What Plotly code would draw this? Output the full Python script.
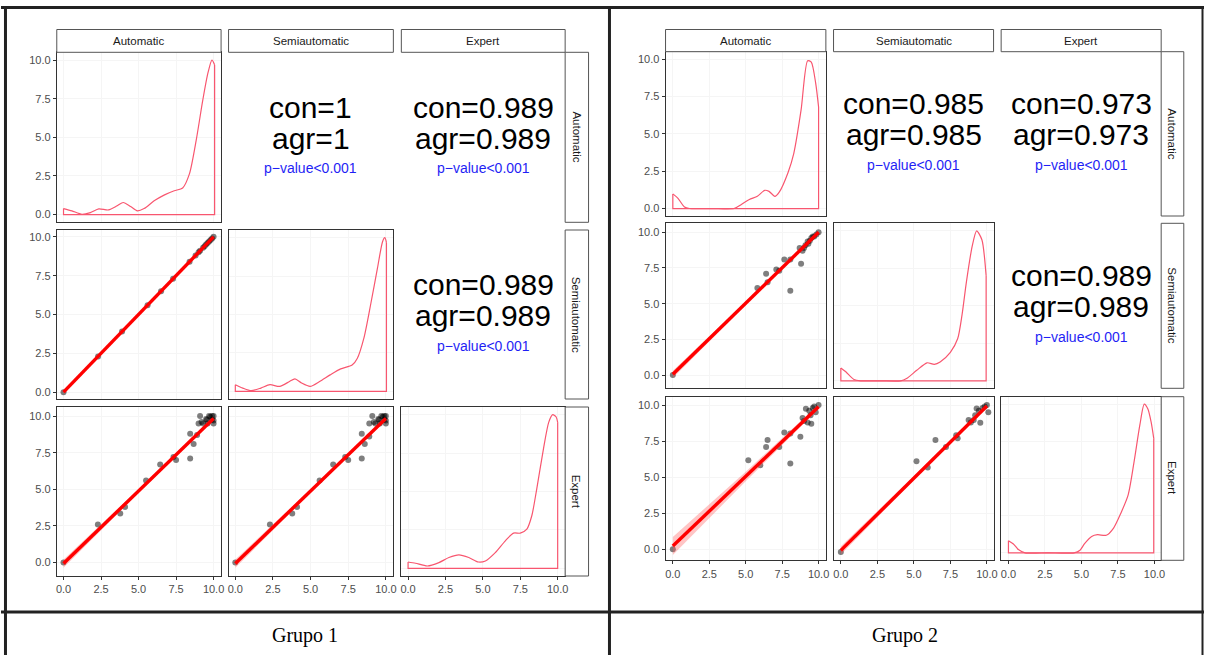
import plotly.graph_objects as go

# ---------------- data ----------------
variables = ["Automatic", "Semiautomatic", "Expert"]
group_names = ["Grupo 1", "Grupo 2"]
tick_vals = [0, 2.5, 5, 7.5, 10]
tick_text = ["0.0", "2.5", "5.0", "7.5", "10.0"]

# upper-panel statistics, order: (Auto,Semi), (Auto,Expert), (Semi,Expert)
g1_con = [1, 0.989, 0.989]
g1_agr = [1, 0.989, 0.989]
g2_con = [0.985, 0.973, 0.989]
g2_agr = [0.985, 0.973, 0.989]
p_label = "p\u2212value<0.001"

# diagonal density curves (scaled to 0-10)
g1_auto_dx = [0.0, 0.56, 1.23, 1.79, 2.35, 3.0, 3.58, 3.98, 4.47, 4.92, 5.37, 6.04, 6.7, 7.38, 7.94, 8.39, 8.84, 9.28, 9.62, 9.89, 10.07]
g1_auto_dy = [0.39, 0.24, 0.02, 0.13, 0.37, 0.3, 0.57, 0.78, 0.52, 0.24, 0.39, 0.89, 1.26, 1.54, 1.72, 2.63, 4.8, 7.4, 9.15, 10.0, 9.7]
g1_semi_dx = [0.0, 0.5, 1.05, 1.7, 2.3, 2.95, 3.6, 3.96, 4.4, 4.97, 5.6, 6.3, 7.0, 7.76, 8.1, 8.55, 9.0, 9.44, 9.78, 9.93, 10.04]
g1_semi_dy = [0.43, 0.21, 0.04, 0.21, 0.43, 0.32, 0.64, 0.81, 0.54, 0.32, 0.64, 1.07, 1.46, 1.71, 2.14, 3.5, 5.7, 8.0, 9.74, 10.0, 9.7]
g1_exp_dx = [0.0, 0.5, 1.29, 2.06, 2.73, 3.4, 4.06, 4.7, 5.17, 5.83, 6.5, 7.05, 7.5, 7.94, 8.27, 8.6, 9.05, 9.4, 9.67, 9.9, 10.0]
g1_exp_dy = [0.41, 0.33, 0.15, 0.37, 0.7, 0.87, 0.7, 0.41, 0.48, 1.02, 1.79, 2.29, 2.29, 2.55, 3.42, 5.16, 7.78, 9.5, 10.0, 9.85, 9.5]

g2_auto_dx = [0.0, 0.34, 0.8, 1.14, 2.7, 4.2, 4.7, 5.25, 5.8, 6.3, 6.6, 7.0, 7.3, 7.9, 8.3, 8.8, 9.25, 9.5, 9.8, 10.0]
g2_auto_dy = [0.98, 0.7, 0.1, 0.0, 0.0, 0.0, 0.27, 0.6, 0.82, 1.22, 1.15, 0.82, 1.1, 2.4, 3.7, 6.6, 9.9, 9.8, 8.4, 6.8]
g2_semi_dx = [0.0, 0.34, 0.9, 1.36, 2.7, 4.1, 4.5, 5.2, 5.9, 6.4, 6.8, 7.5, 8.0, 8.3, 8.6, 9.0, 9.3, 9.66, 9.95]
g2_semi_dy = [0.86, 0.6, 0.09, 0.0, 0.0, 0.0, 0.15, 0.7, 1.2, 1.1, 1.26, 1.9, 2.8, 4.4, 6.6, 9.0, 10.0, 9.4, 7.0]
g2_exp_dx = [0.0, 0.34, 0.68, 1.14, 2.7, 4.5, 4.9, 5.2, 5.7, 6.1, 6.7, 7.2, 7.7, 8.2, 8.6, 9.0, 9.3, 9.55, 9.77, 9.95]
g2_exp_dy = [0.82, 0.6, 0.22, 0.0, 0.0, 0.0, 0.18, 0.6, 1.1, 1.22, 1.18, 1.67, 2.67, 3.9, 6.1, 8.6, 10.0, 9.67, 8.8, 7.7]

# scatter points (x = column rater, y = row rater)
g1_auto_semi_x = [0.0, 2.3, 3.9, 5.6, 6.5, 7.3, 8.4, 8.8, 9.0, 9.1, 9.3, 9.4, 9.5, 9.6, 9.7, 9.8, 9.9, 10.0]
g1_auto_semi_y = [0.0, 2.3, 3.9, 5.6, 6.5, 7.3, 8.4, 8.8, 9.0, 9.1, 9.3, 9.4, 9.5, 9.6, 9.7, 9.8, 9.9, 10.0]
g1_auto_exp_x = [0.0, 2.29, 3.78, 4.1, 5.5, 6.44, 7.33, 7.5, 8.44, 8.44, 8.67, 8.9, 9.1, 9.0, 9.3, 9.56, 9.78, 10.0, 10.0, 9.9, 9.2, 9.5, 9.7, 10.0, 9.9, 9.6]
g1_auto_exp_y = [0.0, 2.6, 3.35, 3.8, 5.6, 6.7, 7.2, 7.0, 7.1, 8.8, 8.1, 8.7, 10.0, 9.5, 9.5, 9.75, 9.95, 10.0, 9.5, 9.75, 9.6, 9.8, 10.0, 9.7, 10.0, 9.5]
g1_semi_exp_x = [0.0, 2.3, 3.78, 4.1, 5.6, 6.5, 7.3, 7.5, 8.4, 8.4, 8.6, 8.9, 9.1, 8.9, 9.3, 9.55, 9.8, 10.0, 10.0, 9.9, 9.2, 9.5, 9.7, 10.0, 9.9, 9.6]
g1_semi_exp_y = [0.0, 2.6, 3.35, 3.8, 5.6, 6.7, 7.2, 7.0, 7.1, 8.8, 8.1, 8.6, 10.0, 9.5, 9.5, 9.75, 9.95, 10.0, 9.5, 9.75, 9.6, 9.8, 10.0, 9.7, 10.0, 9.5]

g2_auto_semi_x = [0.0, 5.8, 6.4, 6.5, 7.1, 7.3, 7.65, 8.06, 8.06, 8.8, 8.7, 9.0, 9.1, 9.25, 9.4, 9.6, 9.7, 9.85, 10.0, 8.9, 9.3, 9.5]
g2_auto_semi_y = [0.0, 6.1, 7.1, 6.5, 7.4, 7.3, 8.1, 8.1, 5.9, 7.8, 8.9, 8.9, 9.1, 9.35, 9.4, 9.7, 9.7, 9.85, 10.0, 8.7, 9.2, 9.6]
g2_auto_exp_x = [0.0, 5.18, 6.0, 6.4, 6.5, 7.3, 7.65, 8.06, 8.06, 8.75, 9.0, 9.25, 9.5, 9.13, 9.36, 9.8, 10.0, 9.6, 8.9, 9.45, 9.7]
g2_auto_exp_y = [0.0, 6.18, 5.83, 7.1, 7.57, 7.1, 8.1, 8.03, 5.95, 7.8, 8.9, 8.8, 8.7, 9.75, 9.6, 9.5, 10.0, 9.8, 9.1, 9.3, 9.9]
g2_semi_exp_x = [0.0, 5.18, 5.95, 6.48, 7.2, 7.9, 8.0, 8.75, 9.3, 9.1, 9.55, 10.0, 10.1, 8.9, 9.2, 9.45, 9.7, 9.85]
g2_semi_exp_y = [-0.19, 6.1, 5.67, 7.57, 7.1, 7.9, 7.7, 8.96, 9.77, 8.96, 8.77, 10.0, 9.5, 8.8, 9.3, 9.6, 9.8, 9.9]

# linear fits with confidence band, evaluated at fit_x
fit_x = [0.0, 5.0, 10.0]
g1_auto_semi_fit = [0.0, 5.0, 10.0]
g1_auto_semi_lo = [-0.12, 4.94, 9.92]
g1_auto_semi_hi = [0.12, 5.06, 10.08]
g1_auto_exp_fit = [-0.07, 4.88, 9.84]
g1_auto_exp_lo = [-0.35, 4.75, 9.74]
g1_auto_exp_hi = [0.21, 5.01, 9.94]
g1_semi_exp_fit = [-0.07, 4.88, 9.84]
g1_semi_exp_lo = [-0.35, 4.75, 9.74]
g1_semi_exp_hi = [0.21, 5.01, 9.94]
g2_auto_semi_fit = [0.05, 5.02, 10.0]
g2_auto_semi_lo = [-0.2, 4.9, 9.9]
g2_auto_semi_hi = [0.3, 5.14, 10.1]
g2_auto_exp_fit = [0.23, 5.05, 9.88]
g2_auto_exp_lo = [-0.4, 4.72, 9.72]
g2_auto_exp_hi = [0.86, 5.38, 10.04]
g2_semi_exp_fit = [-0.07, 4.93, 9.93]
g2_semi_exp_lo = [-0.35, 4.78, 9.83]
g2_semi_exp_hi = [0.21, 5.08, 10.03]

# ---------------- layout geometry (pixels) ----------------
W, H = 1208, 655
def fx(p):
    return p / W
def fy(p):
    return 1 - p / H

groups = [
    dict(cols=[(56, 221), (228.5, 394), (402, 566.5)],
         rows=[(52.3, 222.3), (230, 399), (407, 576)],
         strip_top=29.5, strip_right=590,
         xr=[[-0.45, 10.5], [-0.45, 10.5], [-0.45, 10.5]],
         yr=[[-0.5, 10.5], [-0.44, 10.44], [-0.92, 10.62]],
         con=g1_con, agr=g1_agr,
         dens=[(g1_auto_dx, g1_auto_dy), (g1_semi_dx, g1_semi_dy), (g1_exp_dx, g1_exp_dy)],
         scat={(1, 0): (g1_auto_semi_x, g1_auto_semi_y, g1_auto_semi_fit, g1_auto_semi_lo, g1_auto_semi_hi),
               (2, 0): (g1_auto_exp_x, g1_auto_exp_y, g1_auto_exp_fit, g1_auto_exp_lo, g1_auto_exp_hi),
               (2, 1): (g1_semi_exp_x, g1_semi_exp_y, g1_semi_exp_fit, g1_semi_exp_lo, g1_semi_exp_hi)}),
    dict(cols=[(667.3, 828.3), (836, 996.7), (1004.3, 1165)],
         rows=[(51.7, 216), (223.3, 388.3), (396.7, 560.3)],
         strip_top=29.5, strip_right=1187.7,
         xr=[[-0.5, 10.5], [-0.5, 10.46], [-0.5, 10.46]],
         yr=[[-0.5, 10.5], [-0.93, 10.63], [-0.76, 10.58]],
         con=g2_con, agr=g2_agr,
         dens=[(g2_auto_dx, g2_auto_dy), (g2_semi_dx, g2_semi_dy), (g2_exp_dx, g2_exp_dy)],
         scat={(1, 0): (g2_auto_semi_x, g2_auto_semi_y, g2_auto_semi_fit, g2_auto_semi_lo, g2_auto_semi_hi),
               (2, 0): (g2_auto_exp_x, g2_auto_exp_y, g2_auto_exp_fit, g2_auto_exp_lo, g2_auto_exp_hi),
               (2, 1): (g2_semi_exp_x, g2_semi_exp_y, g2_semi_exp_fit, g2_semi_exp_lo, g2_semi_exp_hi)}),
]

SANS = "Liberation Sans, Arial, Helvetica, sans-serif"
DENS_COL = "#F8566F"
fig = go.Figure()
layout = dict(width=W, height=H, margin=dict(l=0, r=0, t=0, b=0),
              paper_bgcolor="white", plot_bgcolor="white", showlegend=False)
shapes = []
annotations = []

k = 0
for g in groups:
    # panels
    for r in range(3):
        for c in range(3):
            if c > r:
                continue
            k += 1
            xa = "xaxis" if k == 1 else "xaxis%d" % k
            ya = "yaxis" if k == 1 else "yaxis%d" % k
            xref = "x" if k == 1 else "x%d" % k
            yref = "y" if k == 1 else "y%d" % k
            x0, x1 = g["cols"][c]
            y0, y1 = g["rows"][r]
            yrange = g["yr"][r] if r != c else [-0.5, 10.5]
            common = dict(tickvals=tick_vals, ticktext=tick_text, showline=True,
                          linecolor="#333333", linewidth=1, mirror=True,
                          showgrid=True, gridcolor="#F5F5F5", gridwidth=1,
                          zeroline=False, ticklen=3, tickcolor="#333333",
                          tickfont=dict(family=SANS, size=11, color="#4D4D4D"),
                          fixedrange=True)
            layout[xa] = dict(common, domain=[fx(x0), fx(x1)], range=g["xr"][c],
                              anchor=yref, showticklabels=(r == 2),
                              ticks="outside" if r == 2 else "")
            layout[ya] = dict(common, domain=[fy(y1), fy(y0)], range=yrange,
                              anchor=xref, showticklabels=(c == 0),
                              ticks="outside" if c == 0 else "")
            if r == c:
                dx, dy = g["dens"][r]
                fig.add_trace(go.Scatter(x=dx, y=dy, mode="lines", xaxis=xref, yaxis=yref,
                                         line=dict(color=DENS_COL, width=1.2, shape="spline", smoothing=0.7),
                                         hoverinfo="skip"))
                fig.add_trace(go.Scatter(x=[dx[-1], dx[-1], dx[0], dx[0]], y=[dy[-1], 0, 0, dy[0]],
                                         mode="lines", xaxis=xref, yaxis=yref,
                                         line=dict(color=DENS_COL, width=1.2), hoverinfo="skip"))
            else:
                sx, sy, fit, lo, hi = g["scat"][(r, c)]
                fig.add_trace(go.Scatter(x=sx, y=sy, mode="markers", xaxis=xref, yaxis=yref,
                                         marker=dict(size=6, color="rgba(0,0,0,0.5)"),
                                         hoverinfo="skip"))
                fig.add_trace(go.Scatter(x=fit_x + fit_x[::-1], y=hi + lo[::-1], mode="lines",
                                         fill="toself", fillcolor="rgba(255,90,90,0.35)",
                                         line=dict(width=0), xaxis=xref, yaxis=yref, hoverinfo="skip"))
                fig.add_trace(go.Scatter(x=fit_x, y=fit, mode="lines", xaxis=xref, yaxis=yref,
                                         line=dict(color="#FF0000", width=3.4), hoverinfo="skip"))
    # column strips
    for c in range(3):
        x0, x1 = g["cols"][c]
        shapes.append(dict(type="rect", xref="paper", yref="paper", x0=fx(x0), x1=fx(x1),
                           y0=fy(g["rows"][0][0]), y1=fy(g["strip_top"]),
                           line=dict(color="#555555", width=1), fillcolor="white"))
        annotations.append(dict(xref="paper", yref="paper", x=fx((x0 + x1) / 2),
                                y=fy((g["rows"][0][0] + g["strip_top"]) / 2),
                                text=variables[c], showarrow=False, xanchor="center", yanchor="middle",
                                font=dict(family=SANS, size=11.5, color="#1A1A1A")))
    # row strips
    for r in range(3):
        y0, y1 = g["rows"][r]
        xs0 = g["cols"][2][1]
        shapes.append(dict(type="rect", xref="paper", yref="paper", x0=fx(xs0), x1=fx(g["strip_right"]),
                           y0=fy(y1), y1=fy(y0), line=dict(color="#555555", width=1), fillcolor="white"))
        annotations.append(dict(xref="paper", yref="paper", x=fx((xs0 + g["strip_right"]) / 2),
                                y=fy((y0 + y1) / 2), text=variables[r], textangle=90,
                                showarrow=False, xanchor="center", yanchor="middle",
                                font=dict(family=SANS, size=11.5, color="#1A1A1A")))
    # upper text panels
    pairs = [(0, 1), (0, 2), (1, 2)]
    for i, (r, c) in enumerate(pairs):
        x0, x1 = g["cols"][c]
        y0, y1 = g["rows"][r]
        cx = fx((x0 + x1) / 2)
        cy = (y0 + y1) / 2
        annotations.append(dict(xref="paper", yref="paper", x=cx, y=fy(cy - 30),
                                text="con=%g" % g["con"][i], showarrow=False,
                                xanchor="center", yanchor="middle",
                                font=dict(family=SANS, size=30, color="black")))
        annotations.append(dict(xref="paper", yref="paper", x=cx, y=fy(cy + 1),
                                text="agr=%g" % g["agr"][i], showarrow=False,
                                xanchor="center", yanchor="middle",
                                font=dict(family=SANS, size=30, color="black")))
        annotations.append(dict(xref="paper", yref="paper", x=cx, y=fy(cy + 31),
                                text=p_label, showarrow=False,
                                xanchor="center", yanchor="middle",
                                font=dict(family=SANS, size=14, color="#1F1FF5")))

# table frame
frame_col = "#222222"
shapes += [
    dict(type="line", xref="paper", yref="paper", x0=fx(0), x1=fx(W), y0=fy(7.5), y1=fy(7.5),
         line=dict(color=frame_col, width=3)),
    dict(type="line", xref="paper", yref="paper", x0=fx(4.5), x1=fx(4.5), y0=fy(6), y1=fy(H),
         line=dict(color=frame_col, width=3)),
    dict(type="line", xref="paper", yref="paper", x0=fx(611), x1=fx(611), y0=fy(6), y1=fy(H),
         line=dict(color=frame_col, width=3)),
    dict(type="line", xref="paper", yref="paper", x0=fx(1206.5), x1=fx(1206.5), y0=fy(6), y1=fy(H),
         line=dict(color=frame_col, width=2)),
    dict(type="line", xref="paper", yref="paper", x0=fx(0), x1=fx(W), y0=fy(612), y1=fy(612),
         line=dict(color=frame_col, width=3)),
]
for name, cx in zip(group_names, [305, 908]):
    annotations.append(dict(xref="paper", yref="paper", x=fx(cx), y=fy(635), text=name,
                            showarrow=False, xanchor="center", yanchor="middle",
                            font=dict(family="Liberation Serif, Times New Roman, serif", size=20, color="black")))

layout["shapes"] = shapes
layout["annotations"] = annotations
fig.update_layout(**layout)
fig.write_html("out.html", config={"displayModeBar": False},
               post_script="document.body.style.margin='0';document.body.style.overflow='hidden';")
